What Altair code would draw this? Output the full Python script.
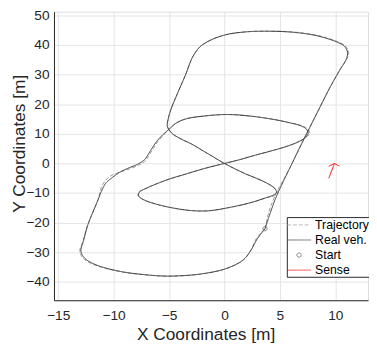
import altair as alt
import pandas as pd

FONT = "Liberation Sans"

# legend categories and styles
series_names = ["Trajectory", "Real veh.", "Start", "Sense"]
series_colors = ["#9c9c9c", "#3a3a3a", "#505050", "#ff0000"]
series_dash = [[4, 2], [1, 0], [1, 0], [1, 0]]
series_widths = [1, 1, 1, 1.8]
line_sym = "M-1.633,0H1.633"
circ_sym = "M-0.293,0A0.293,0.293,0,1,1,0.293,0A0.293,0.293,0,1,1,-0.293,0"
series_shapes = [line_sym, line_sym, circ_sym, line_sym]

# real vehicle path (solid)
real_x = [3.66, 4.15, 4.7, 5.9, 7.1, 8.35, 9.5, 10.4, 11.0, 11.1,
          10.8, 10.1, 9.2, 7.9, 6.0, 4.0, 2.0, 0.1, -1.3, -2.25,
          -2.9, -3.5, -4.25, -4.85, -5.1, -5.15, -4.75, -4.0, -3.0, -1.5,
          0.0, 1.8, 3.0, 3.9, 4.45, 4.7, 4.4, 3.8, 2.4, 0.4,
          -1.5, -3.0, -4.4, -6.1, -7.3, -7.75, -7.65, -7.0, -6.4, -5.0,
          -3.5, -1.8, 0.0, 1.3, 2.7, 4.2, 5.4, 6.5, 7.25, 7.55,
          7.35, 6.8, 5.9, 4.5, 2.5, 0.3, -1.8, -3.5, -4.4, -4.95,
          -5.5, -6.1, -6.5, -6.85, -7.2, -7.85, -8.75, -9.5, -10.1, -10.7,
          -11.1, -11.4, -12.0, -12.35, -12.7, -12.95, -12.6, -11.6, -9.5, -7.4,
          -5.1, -2.15, 0.2, 1.7, 2.4, 2.95, 3.66]
real_y = [-22.0, -16.5, -11.0, -1.5, 7.7, 17.0, 25.5, 31.5, 35.3, 37.6,
          39.6, 41.0, 42.2, 43.4, 44.3, 44.6, 44.4, 43.4, 41.5, 39.2,
          35.7, 30.0, 23.5, 18.0, 14.6, 12.5, 10.2, 8.4, 6.6, 3.3,
          0.0, -3.35, -5.2, -6.8, -8.2, -9.7, -10.7, -11.5, -13.2, -14.9,
          -16.0, -15.9, -15.2, -13.8, -12.2, -10.9, -9.6, -8.3, -7.3, -5.3,
          -3.6, -1.7, 0.0, 1.2, 2.7, 4.2, 5.5, 7.0, 8.6, 10.3,
          11.7, 12.8, 13.7, 14.8, 15.9, 16.5, 16.0, 15.0, 13.5, 11.7,
          9.9, 7.5, 5.3, 3.25, 1.3, -0.3, -1.7, -3.1, -4.7, -6.65,
          -9.4, -12.2, -17.6, -21.0, -25.9, -29.6, -32.0, -34.2, -36.35, -37.45,
          -38.0, -37.3, -35.4, -32.5, -29.2, -25.5, -22.0]

# reference trajectory (dashed)
traj_x = [3.66, 4.0, 4.55, 5.9, 7.1, 8.35, 9.5, 10.4, 11.05, 11.2,
          10.9, 10.2, 9.3, 8.0, 6.0, 4.0, 2.0, 0.1, -1.3, -2.25,
          -2.9, -3.5, -4.25, -4.85, -5.1, -5.15, -4.75, -4.0, -3.0, -1.5,
          0.0, 1.8, 3.0, 3.9, 4.5, 4.85, 4.5, 3.8, 2.4, 0.4,
          -1.5, -3.0, -4.4, -6.1, -7.3, -7.8, -7.7, -7.0, -6.4, -5.0,
          -3.5, -1.8, 0.0, 1.3, 2.7, 4.2, 5.4, 6.5, 7.3, 7.7,
          7.45, 6.85, 5.9, 4.5, 2.5, 0.3, -1.8, -3.5, -4.4, -4.95,
          -5.45, -6.0, -6.4, -6.75, -7.1, -7.75, -8.7, -9.5, -10.25, -10.7,
          -11.1, -11.4, -12.0, -12.35, -12.75, -13.05, -12.65, -11.6, -9.5, -7.4,
          -5.1, -2.15, 0.2, 1.7, 2.4, 2.85, 3.66]
traj_y = [-22.0, -16.5, -11.0, -1.5, 7.7, 17.0, 25.5, 31.5, 35.3, 37.6,
          39.7, 41.1, 42.3, 43.5, 44.4, 44.6, 44.4, 43.4, 41.5, 39.2,
          35.7, 30.0, 23.5, 18.0, 14.6, 12.5, 10.2, 8.4, 6.6, 3.3,
          0.0, -3.35, -5.2, -6.8, -8.2, -9.8, -10.9, -11.6, -13.2, -14.9,
          -16.0, -15.9, -15.2, -13.8, -12.3, -10.9, -9.6, -8.3, -7.3, -5.3,
          -3.6, -1.7, 0.0, 1.2, 2.7, 4.2, 5.5, 7.0, 8.6, 10.3,
          11.8, 12.9, 13.7, 14.8, 15.9, 16.5, 16.0, 15.0, 13.5, 11.7,
          9.8, 7.4, 5.2, 3.1, 1.0, -0.6, -2.0, -3.0, -4.2, -5.6,
          -8.0, -12.2, -17.6, -21.0, -25.9, -29.9, -32.3, -34.4, -36.45, -37.5,
          -38.05, -37.35, -35.45, -32.6, -29.2, -25.5, -22.0]

start_x = [3.66]
start_y = [-22.0]

sense_x = [9.41, 9.92, 9.41, 9.92, 10.36]
sense_y = [-5.0, -0.05, -0.94, -0.05, -0.84]
sense_seg = ["shaft", "shaft", "head", "head", "head"]

x_ticks = [-15, -10, -5, 0, 5, 10]
y_ticks = [-40, -30, -20, -10, 0, 10, 20, 30, 40, 50]

traj_df = pd.DataFrame({"x": traj_x, "y": traj_y, "i": range(len(traj_x)), "series": "Trajectory"})
real_df = pd.DataFrame({"x": real_x, "y": real_y, "i": range(len(real_x)), "series": "Real veh."})
start_df = pd.DataFrame({"x": start_x, "y": start_y, "series": "Start"})
sense_df = pd.DataFrame({"x": sense_x, "y": sense_y, "seg": sense_seg, "i": range(len(sense_x)), "series": "Sense"})

xscale = alt.Scale(domain=[-15.38, 12.95], nice=False, zero=False)
yscale = alt.Scale(domain=[-46.16, 51.2], nice=False, zero=False)

xaxis = alt.Axis(values=x_ticks, title="X Coordinates [m]", grid=True, ticks=False, tickSize=0,
                 labelPadding=20, labelBaseline="alphabetic", labelFontSize=14, titleFontSize=17.7,
                 titleX=155, titleY=40, titleBaseline="alphabetic",
                 labelFont=FONT, titleFont=FONT, labelColor="#262626", titleColor="#262626",
                 titleFontWeight="normal", domainColor="#262626", gridColor="#e3e3e3",
                 labelFlush=False)
yaxis = alt.Axis(values=y_ticks, title="Y Coordinates [m]", grid=True, ticks=False, tickSize=0,
                 labelPadding=5, labelFontSize=14, titleFontSize=17.7,
                 titleX=-30, titleY=134.5, titleBaseline="alphabetic",
                 labelFont=FONT, titleFont=FONT, labelColor="#262626", titleColor="#262626",
                 titleFontWeight="normal", domainColor="#262626", gridColor="#e3e3e3",
                 labelFlush=False)

leg = alt.Legend(title=None, orient="none", legendX=238, legendY=210, padding=0,
                 rowPadding=0.4, labelFontSize=12.5, labelFont=FONT, labelColor="#000000",
                 symbolSize=225, symbolStrokeWidth=1, symbolOffset=4.5, labelOffset=8.4,
                 strokeColor="#262626", fillColor="white", symbolFillColor="transparent")

X = alt.X("x:Q", scale=xscale, axis=xaxis)
Y = alt.Y("y:Q", scale=yscale, axis=yaxis)
color = alt.Color("series:N", scale=alt.Scale(domain=series_names, range=series_colors), legend=leg)
dash = alt.StrokeDash("series:N", scale=alt.Scale(domain=series_names, range=series_dash), legend=leg)
shape = alt.Shape("series:N", scale=alt.Scale(domain=series_names, range=series_shapes), legend=leg)
width = alt.StrokeWidth("series:N", scale=alt.Scale(domain=series_names, range=series_widths), legend=leg)

traj_layer = alt.Chart(traj_df).mark_line(interpolate="catmull-rom", clip=True).encode(
    x=X, y=Y, color=color, strokeDash=dash, strokeWidth=width, order="i:Q")
real_layer = alt.Chart(real_df).mark_line(interpolate="catmull-rom", clip=True).encode(
    x=X, y=Y, color=color, strokeDash=dash, strokeWidth=width, order="i:Q")
start_layer = alt.Chart(start_df).mark_point(filled=False, size=225, clip=True).encode(
    x=X, y=Y, color=color, shape=shape, strokeDash=dash, strokeWidth=width)
sense_layer = alt.Chart(sense_df).mark_line(clip=True).encode(
    x=X, y=Y, color=color, strokeDash=dash, strokeWidth=width, detail="seg:N", order="i:Q")

chart = alt.layer(traj_layer, real_layer, start_layer, sense_layer).properties(
    width=321, height=295,
    padding={"left": 47, "top": 0, "right": 1, "bottom": 42},
    autosize=alt.AutoSizeParams(type="none"),
).configure_view(stroke="#262626", strokeWidth=1).configure(background="white")

chart.save("out.html", embed_options={"renderer": "svg", "actions": False})
